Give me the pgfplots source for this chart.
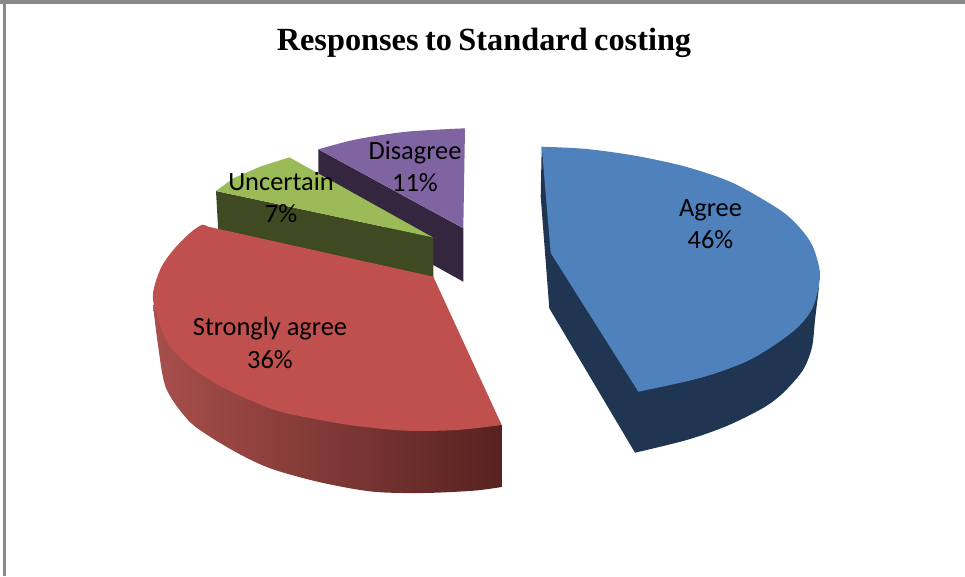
\documentclass[border=0pt]{standalone}
\usepackage{pgfplots}
\pgfplotsset{compat=1.18}
\usepackage{fontspec}
\setmainfont{Carlito}
\newfontfamily\titlefont{Liberation Serif}
\definecolor{cblue}{HTML}{4F81BD}
\definecolor{cbluesd}{HTML}{1F3552}
\definecolor{cred}{HTML}{C0504D}
\definecolor{credL}{HTML}{A84F4C}
\definecolor{credM}{HTML}{893B38}
\definecolor{credR}{HTML}{572220}
\definecolor{cgreen}{HTML}{9BBB59}
\definecolor{cgreensd}{HTML}{3F4A22}
\definecolor{cpurple}{HTML}{8064A2}
\definecolor{cpurplesd}{HTML}{35263F}
\definecolor{cborder}{HTML}{8A8A8A}
\tikzset{lab/.style={font=\fontsize{26.4}{30}\selectfont, anchor=base, text=black, inner sep=0pt}}
\begin{document}
\begin{tikzpicture}
\begin{axis}[
  scale only axis, width=965pt, height=576pt,
  xmin=0, xmax=965, ymin=0, ymax=576, y dir=reverse,
  hide axis, clip=true,
]
% frame
\addplot[fill=cborder, draw=none] coordinates {(0,0) (965,0) (965,3.5) (0,3.5)} --cycle;
\addplot[fill=cborder, draw=none] coordinates {(2.5,0) (5.5,0) (5.5,576) (2.5,576)} --cycle;
% Disagree
\addplot[fill=cpurplesd, draw=none] coordinates {(318.3,149.3) (463.3,228.3) (463.3,281.7) (433.3,265) (318.3,173.3)} --cycle;
\addplot[smooth, fill=cpurple, draw=none] coordinates {(318.3,149.3) (356.7,139.3) (406.7,131.7) (465,128.3)} -- (axis cs:463.3,228.3) -- cycle;
% Uncertain
\addplot[fill=cgreensd, draw=none] coordinates {(216,191) (218.3,232) (433.3,281) (433.3,237.3)} --cycle;
\addplot[fill=cgreen, draw=none] coordinates {(216,191) (233.3,178.3) (260,166.7) (289.3,157.3) (432.7,237.3)} --cycle;
% Strongly agree
\addplot[smooth, draw=none, left color=credL, middle color=credM, right color=credR] coordinates {(153,305) (158,345) (166,388) (188,420) (212,438) (245,457) (275,470) (323.3,483) (373.3,491.7) (423.3,493) (473.3,490.7) (501.7,487)} -- (axis cs:501.7,425) -- cycle;
\addplot[smooth, fill=cred, draw=none] coordinates {(501.7,425) (456.7,430) (406.7,430.7) (356.7,426) (315,419) (275,410) (228,390) (192,368) (168,343) (153,300) (160,270) (173.3,250) (190,233) (201.7,225) (208.3,226.7)} -- (axis cs:433.3,276.7) -- cycle;
% Agree
\addplot[fill=cbluesd, draw=none] coordinates {(541.7,146.7) (540.7,196.7) (549.3,308.3) (635,452.7) (650,420) (638.3,300)} --cycle;
\addplot[smooth, fill=cbluesd, draw=none] coordinates {(819,287) (815,320) (812,347) (803,370) (783,393) (763,408) (726.7,426) (686.7,440) (635,452.7)} -- (axis cs:638.3,391.7) -- cycle;
\addplot[smooth, fill=cblue, draw=none] coordinates {(541.7,146.7) (586.7,149) (636.7,156) (686.7,167) (733,183) (780,210) (800,228) (813,247) (820,275) (813,307) (797,328) (770,348) (743,363) (700,378) (638.3,391.7)} -- (axis cs:550.7,253) -- cycle;
% labels
\node[lab] at (axis cs:710.5,216.7) {Agree};
\node[lab] at (axis cs:710.5,248) {46\%};
\node[lab] at (axis cs:270,335) {Strongly agree};
\node[lab] at (axis cs:270,368) {36\%};
\node[lab] at (axis cs:281,190) {Uncertain};
\node[lab] at (axis cs:281,222) {7\%};
\node[lab] at (axis cs:415,159) {Disagree};
\node[lab] at (axis cs:415,191) {11\%};
\node[font=\titlefont\bfseries\fontsize{32.3}{36}\selectfont, anchor=base, inner sep=0pt, text=black] at (axis cs:484,50.7) {\spaceskip=6.5pt Responses to Standard costing};
\end{axis}
\end{tikzpicture}
\end{document}
